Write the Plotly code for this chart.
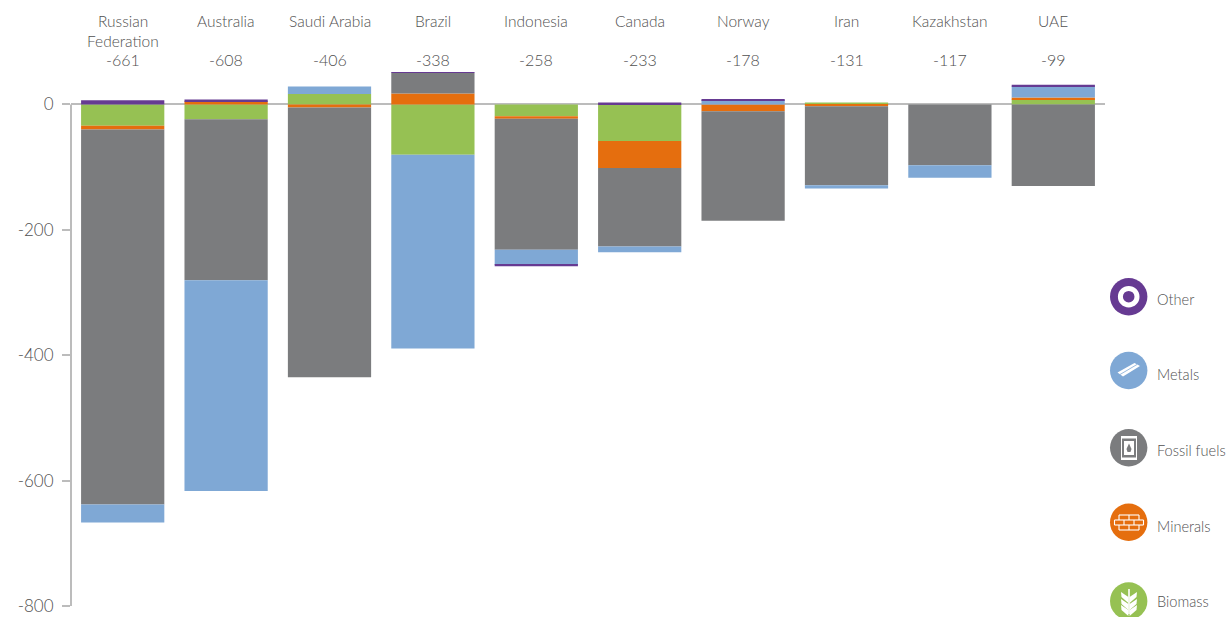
import plotly.graph_objects as go

countries = ["Russian<br>Federation", "Australia", "Saudi Arabia", "Brazil", "Indonesia",
             "Canada", "Norway", "Iran", "Kazakhstan", "UAE"]
totals = [-661, -608, -406, -338, -258, -233, -178, -131, -117, -99]

biomass = [-34, -23.5, 16.5, -80.5, -19, -58.5, 0, 3, 0, 8]
minerals = [-6, 5, -5, 17.5, -4, -43, -11, -3, 0, 3]
fossil = [-598, -257, -430, 33, -209, -125, -174.5, -126, -97, -130]
metals = [-29, -336, 12, -309, -24, -9.5, 7, -5, -20, 17.5]
other = [6.5, 3, 0, 1, -2, 3, 1.5, 0, 0, 3]

series_names = ["Biomass", "Minerals", "Fossil fuels", "Metals", "Other"]
series_values = [biomass, minerals, fossil, metals, other]
series_colors = ["#96c153", "#e56e0e", "#7b7c7e", "#7fa8d5", "#663a92"]

y_ticks = [0, -200, -400, -600, -800]
y_tick_labels = ["0", "-200", "-400", "-600", "-800"]

W, H = 1228, 617
L, R, T, B = 71, 123, 0, 11
PW, PH = W - L - R, H - T - B
ZERO_PX = 104.4
FONT = "Lato"
TXT = "#505050"
AX = "#bcbcbc"


def px(x):
    return (x - L) / PW


def py(y):
    return 1 - (y - T) / PH


def path(points):
    return "M" + " L".join(f"{px(a):.5f},{py(b):.5f}" for a, b in points) + " Z"


shapes = []
annotations = []


def circle(cx, cy, r, color):
    shapes.append(dict(type="circle", xref="paper", yref="paper", x0=px(cx - r), x1=px(cx + r),
                       y0=py(cy + r), y1=py(cy - r), fillcolor=color, line_width=0, layer="above"))


def poly(points, color="white"):
    shapes.append(dict(type="path", xref="paper", yref="paper", path=path(points),
                       fillcolor=color, line_width=0, layer="above"))


def seg(x0, y0, x1, y1, w=1.2, color="white"):
    shapes.append(dict(type="line", xref="paper", yref="paper", x0=px(x0), x1=px(x1), y0=py(y0), y1=py(y1),
                       line=dict(color=color, width=w), layer="above"))


# axis line ending at zero
shapes.append(dict(type="line", xref="paper", yref="y", x0=0, x1=0, y0=-800, y1=0,
                   line=dict(color=AX, width=2), layer="below"))

# legend icons
CX = 1128.7
legend_items = [("Other", 296.7, 299.5, "#663a92"), ("Metals", 370.5, 374, "#7fa8d5"),
                ("Fossil fuels", 447.8, 450, "#7b7c7e"), ("Minerals", 522.3, 526, "#e56e0e"),
                ("Biomass", 601, 601, "#96c153")]
for name, cy, ty, col in legend_items:
    circle(CX, cy, 18.7, col)
    annotations.append(dict(xref="paper", yref="paper", x=px(1156), y=py(ty), text=name, showarrow=False,
                            xanchor="left", yanchor="middle", borderpad=0,
                            font=dict(family=FONT, size=14.6, color=TXT, weight=300)))

# other: ring
circle(CX, 296.7, 10.8, "white")
circle(CX, 296.7, 5.8, "#663a92")
# metals: bar
poly([(1117.5, 372.5), (1134.5, 363), (1140, 366), (1123, 376.5)])
seg(1120, 374.5, 1137, 364.5, 0.8, "#7fa8d5")
# fossil: barrel
poly([(1121, 436), (1137, 436), (1137, 438.5), (1121, 438.5)])
poly([(1121, 457.5), (1137, 457.5), (1137, 460), (1121, 460)])
seg(1121.5, 438, 1121.5, 458, 1)
seg(1136.5, 438, 1136.5, 458, 1)
poly([(1124, 441), (1134, 441), (1134, 455), (1124, 455)])
poly([(1129, 443.5), (1131.5, 449), (1130.5, 452), (1127.5, 452), (1126.5, 449)], "#7b7c7e")
# minerals: bricks
MC = "white"
for x0, x1, yy in [(1119, 1139, 515), (1114.5, 1143.5, 520), (1114.5, 1143.5, 525), (1119, 1139, 530)]:
    seg(x0, yy, x1, yy, 1.1, MC)
for x0, y0, y1 in [(1119, 515, 520), (1129, 515, 520), (1139, 515, 520), (1114.5, 520, 525), (1124, 520, 525),
                   (1134, 520, 525), (1143.5, 520, 525), (1119, 525, 530), (1129, 525, 530), (1139, 525, 530)]:
    seg(x0, y0, x0, y1, 1.1, MC)
# biomass: wheat
seg(1129, 589, 1129, 614, 1.6)
for yy in (597, 604, 610):
    poly([(1128.4, yy + 6), (1121.5, yy), (1121, yy - 5), (1128.4, yy)])
    poly([(1129.6, yy + 6), (1136.5, yy), (1137, yy - 5), (1129.6, yy)])

# column headings
for c, t in zip(countries, totals):
    for i, line in enumerate(c.split("<br>")):
        annotations.append(dict(xref="x", yref="paper", x=c, y=py(21.5 + 19 * i), text=line, showarrow=False,
                                xanchor="center", yanchor="middle",
                                font=dict(family=FONT, size=15.5, color=TXT, weight=300)))
    annotations.append(dict(xref="x", yref="paper", x=c, y=py(60), text=str(t), showarrow=False, xanchor="center",
                            yanchor="middle", font=dict(family=FONT, size=16, color=TXT, weight=300)))

fig = go.Figure()
for n, v, col in zip(series_names, series_values, series_colors):
    fig.add_bar(name=n, x=countries, y=v, marker=dict(color=col, line_width=0))

fig.update_layout(
    width=W, height=H, barmode="relative", bargap=0.195, showlegend=False,
    margin=dict(l=L, r=R, t=T, b=B, pad=0), paper_bgcolor="white", plot_bgcolor="white",
    font=dict(family=FONT, color=TXT), shapes=shapes, annotations=annotations,
    xaxis=dict(visible=False, type="category", categoryorder="array", categoryarray=countries),
    yaxis=dict(range=[-800, 800 * ZERO_PX / (PH - ZERO_PX)], tickvals=y_ticks, ticktext=y_tick_labels,
               ticks="outside", ticklen=8, tickwidth=1.5, tickcolor=AX, showgrid=False, showline=False,
               zeroline=True, zerolinecolor=AX, zerolinewidth=2,
               tickfont=dict(family=FONT, size=17, color=TXT, weight=300), ticklabelstandoff=5),
)
fig.write_html("out.html", config={"displayModeBar": False}, post_script="document.body.style.margin='0';")
